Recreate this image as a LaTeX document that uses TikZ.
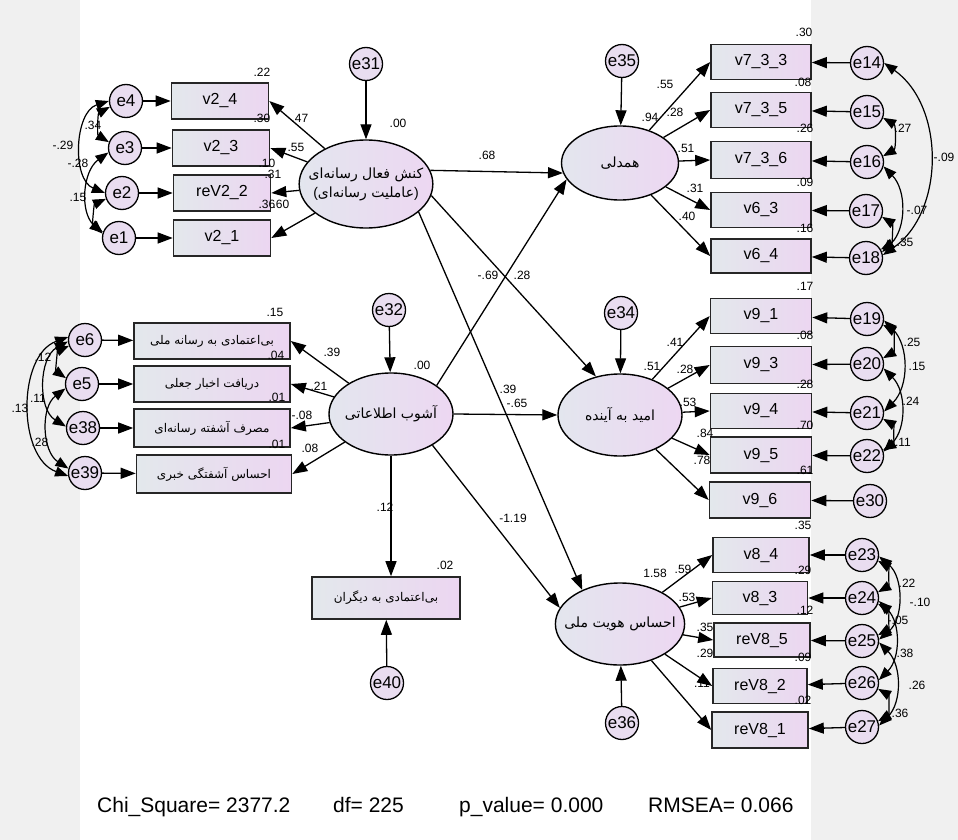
\documentclass[tikz,border=0pt]{standalone}
\usepackage{fontspec}
\setmainfont{Liberation Sans}
\newfontfamily\farsi[Script=Arabic]{DejaVu Sans}
\TeXXeTstate=1
\usetikzlibrary{arrows.meta,%
                shapes.geometric,%
                positioning}
\definecolor{bggray}{HTML}{F0F0F0}
\definecolor{boxL}{HTML}{E3E8EC}
\definecolor{boxR}{HTML}{ECD6F1}
\definecolor{latL}{HTML}{E3E6EE}
\definecolor{latR}{HTML}{EDD7F2}
\definecolor{errfill}{HTML}{E9DDF0}
\newcommand{\fa}[1]{\beginR #1\endR}

\begin{document}
\begin{tikzpicture}[x=1pt,y=-1pt,
    obsbox/.style={draw=black!85,line width=1.6pt,minimum width=97pt,minimum height=36pt,inner sep=0pt,left color=boxL,right color=boxR,font=\fontsize{16}{16}\selectfont},
    fabox/.style={obsbox,minimum width=156pt,font=\farsi\fontsize{12}{12}\selectfont},
    errc/.style={circle,draw,line width=1.3pt,minimum size=33pt,inner sep=0pt,fill=errfill,font=\fontsize{17}{17}\selectfont},
    latent/.style={ellipse,draw,line width=1.4pt,minimum width=124pt,minimum height=82pt,inner sep=-10pt,left color=latL,right color=latR,font=\farsi\fontsize{14}{19}\selectfont,align=center},
    reg/.style={line width=1.3pt,-{Triangle[length=15pt,width=11pt]}},
    cov/.style={line width=1.2pt,{Triangle[length=13pt,width=10pt]}-{Triangle[length=13pt,width=10pt]}},
    est/.style={font=\fontsize{12}{12}\selectfont,inner sep=0pt},
    fit/.style={anchor=base west,inner sep=0pt,font=\fontsize{21}{21}\selectfont}]
    \useasboundingbox (0,0) rectangle (958,840);
    \fill[bggray] (0,0) rectangle (958,840);
    \fill[white] (80,0) rectangle (811,840);

    % latent factors
    \node[latent,minimum width=127pt,minimum height=88pt] (agency) at (366,184) {\fa{کنش فعال رسانه‌ای}\\{\normalfont(}\fa{عاملیت رسانه‌ای}{\normalfont)}};
    \node[latent] (chaos) at (391,414) {\fa{آشوب اطلاعاتی}};
    \node[latent,minimum width=117pt,minimum height=74pt] (empathy) at (620,163) {\fa{همدلی}};
    \node[latent] (hope) at (620,415) {\fa{امید به آینده}};
    \node[latent] (identity) at (620,624) {\fa{احساس هویت ملی}};

    % disturbances
    \node[errc] (e31) at (366,64) {e31};
    \node[errc] (e32) at (389,310) {e32};
    \node[errc] (e35) at (622,61) {e35};
    \node[errc] (e34) at (621,313) {e34};
    \node[errc] (e36) at (622,723) {e36};
    \node[errc] (e40) at (387,683) {e40};
    \node[fabox,minimum width=148pt,minimum height=42pt] (dtr) at (386,598) {\fa{بی‌اعتمادی به دیگران}};

    % media agency indicators
    \node[obsbox] (v24) at (220,101) {v2\_4};
    \node[obsbox] (v23) at (221,148) {v2\_3};
    \node[obsbox] (rv22) at (222,193) {reV2\_2};
    \node[obsbox] (v21) at (222,238) {v2\_1};
    \node[errc] (e4) at (126,101) {e4};
    \node[errc] (e3) at (125,148) {e3};
    \node[errc] (e2) at (122,193) {e2};
    \node[errc] (e1) at (119,238) {e1};

    % information chaos indicators
    \node[fabox] (dm) at (212,341) {\fa{بی‌اعتمادی به رسانه ملی}};
    \node[fabox] (fk) at (212,384) {\fa{دریافت اخبار جعلی}};
    \node[fabox,minimum height=38pt] (mc) at (212,428) {\fa{مصرف آشفته رسانه‌ای}};
    \node[fabox,minimum width=155pt,minimum height=38pt] (na) at (214,474) {\fa{احساس آشفتگی خبری}};
    \node[errc] (e6) at (85,340) {e6};
    \node[errc] (e5) at (82,384) {e5};
    \node[errc] (e38) at (83,428) {e38};
    \node[errc] (e39) at (85,473) {e39};

    % empathy indicators
    \node[obsbox,minimum width=100pt,minimum height=35pt] (v733) at (761,62) {v7\_3\_3};
    \node[obsbox,minimum width=100pt,minimum height=35pt] (v735) at (761,110) {v7\_3\_5};
    \node[obsbox,minimum width=100pt,minimum height=37pt] (v736) at (761,160) {v7\_3\_6};
    \node[obsbox,minimum width=100pt,minimum height=35pt] (v63) at (761,210) {v6\_3};
    \node[obsbox,minimum width=100pt,minimum height=34pt] (v64) at (761,256) {v6\_4};
    \node[errc] (e14) at (867,63) {e14};
    \node[errc] (e15) at (867,112) {e15};
    \node[errc] (e16) at (867,162) {e16};
    \node[errc] (e17) at (866,211) {e17};
    \node[errc] (e18) at (866,258) {e18};

    % hope indicators
    \node[obsbox,minimum width=101pt,minimum height=35pt] (v91) at (761,316) {v9\_1};
    \node[obsbox,minimum width=101pt,minimum height=37pt] (v93) at (761,365) {v9\_3};
    \node[obsbox,minimum width=101pt,minimum height=35pt] (v94) at (761,411) {v9\_4};
    \node[obsbox,minimum width=101pt,minimum height=36pt] (v95) at (761,455) {v9\_5};
    \node[obsbox,minimum width=101pt,minimum height=36pt] (v96) at (760,500) {v9\_6};
    \node[errc] (e19) at (867,319) {e19};
    \node[errc] (e20) at (867,364) {e20};
    \node[errc] (e21) at (867,413) {e21};
    \node[errc] (e22) at (867,456) {e22};
    \node[errc] (e30) at (870,501) {e30};

    % national identity indicators
    \node[obsbox,minimum width=96pt,minimum height=35pt] (v84) at (761,555) {v8\_4};
    \node[obsbox,minimum width=95pt,minimum height=33pt] (v83) at (760,598) {v8\_3};
    \node[obsbox,minimum width=96pt,minimum height=34pt] (rv85) at (762,640) {reV8\_5};
    \node[obsbox,minimum width=94pt,minimum height=35pt] (rv82) at (760,686) {reV8\_2};
    \node[obsbox,minimum width=96pt,minimum height=36pt] (rv81) at (760,730) {reV8\_1};
    \node[errc] (e23) at (862,555) {e23};
    \node[errc] (e24) at (862,598) {e24};
    \node[errc] (e25) at (862,641) {e25};
    \node[errc] (e26) at (862,683) {e26};
    \node[errc] (e27) at (862,727) {e27};

    % structural paths
    \draw[reg] (agency.12) -- (empathy.190);
    \draw[reg] (agency.350) -- (hope.122);
    \draw[reg] (agency.332) -- (identity.138);
    \draw[reg] (chaos.32) -- (empathy.197);
    \draw[reg] (chaos.east) -- (hope.west);
    \draw[reg] (chaos.323) -- (identity.165);
    \draw[reg] (chaos.south) -- (chaos.south |- dtr.north);
    \draw[reg] (e40) -- (dtr);
    \draw[reg] (e31) -- (agency);
    \draw[reg] (e32) -- (chaos);
    \draw[reg] (e35) -- (empathy);
    \draw[reg] (e34) -- (hope);
    \draw[reg] (e36) -- (identity);

    % loadings
    \foreach \b in {v24,v23,rv22,v21} \draw[reg] (agency) -- (\b.east);
    \foreach \b in {dm,fk,mc,na} \draw[reg] (chaos) -- (\b.east);
    \foreach \b in {v733,v735,v736,v63,v64} \draw[reg] (empathy) -- (\b.west);
    \foreach \b in {v91,v93,v94,v95,v96} \draw[reg] (hope) -- (\b.west);
    \foreach \b in {v84,v83,rv85,rv82,rv81} \draw[reg] (identity) -- (\b.west);

    % measurement errors
    \foreach \e/\b in {e4/v24,e3/v23,e2/rv22,e1/v21,e6/dm,e5/fk,e38/mc,e39/na} \draw[reg] (\e) -- (\b);
    \foreach \e/\b in {e14/v733,e15/v735,e16/v736,e17/v63,e18/v64,e19/v91,e20/v93,e21/v94,e22/v95,e30/v96} \draw[reg] (\e) -- (\b);
    \foreach \e/\b in {e23/v84,e24/v83,e25/rv85,e26/rv82,e27/rv81} \draw[reg] (\e) -- (\b);

    % covariances
    \draw[cov] (e4.200) to[bend right=60] (e3.160);
    \draw[cov] (e4.180) to[bend right=70] (e2.180);
    \draw[cov] (e3.195) to[bend right=50] (e1.165);
    \draw[cov] (e2.200) to[bend right=60] (e1.160);
    \draw[cov] (e6.200) to[bend right=60] (e5.160);
    \draw[cov] (e6.185) to[bend right=60] (e38.175);
    \draw[cov] (e6.170) to[bend right=70] (e39.190);
    \draw[cov] (e5.195) to[bend right=55] (e39.165);
    \draw[cov] (e15.340) to[bend left=60] (e16.20);
    \draw[cov] (e16.345) to[bend left=45] (e18.20);
    \draw[cov] (e14.0) to[bend left=55] (e18.10);
    \draw[cov] (e17.340) to[bend left=60] (e18.30);
    \draw[cov] (e19.340) to[bend left=60] (e20.20);
    \draw[cov] (e19.355) to[bend left=45] (e21.5);
    \draw[cov] (e20.345) to[bend left=45] (e22.15);
    \draw[cov] (e21.340) to[bend left=60] (e22.20);
    \draw[cov] (e23.340) to[bend left=60] (e24.20);
    \draw[cov] (e23.355) to[bend left=50] (e25.5);
    \draw[cov] (e24.340) to[bend left=60] (e25.20);
    \draw[cov] (e24.350) to[bend left=45] (e26.10);
    \draw[cov] (e25.355) to[bend left=45] (e27.5);
    \draw[cov] (e26.340) to[bend left=60] (e27.20);

    % estimates
    \foreach \x/\y/\t [count=\i] in {262/72/.22, 262/118/.30, 300/118/.47, 296/147/.55, 267/163/.10, 273/174/.31, 267/204/.36, 281/204/.60, 93/125/.34, 63/145/-.29, 78/163/-.28, 78/197/.15, 398/123/.00,
        275/312/.15, 276/355/.04, 277/397/.01, 277/444/.01, 332/352/.39, 319/386/.21, 302/415/-.08, 310/448/.08, 43/357/.12, 38/398/.11, 20/408/.13, 40/442/.28, 422/365/.00,
        487/155/.68, 488/275/-.69, 522/275/.28, 508/389/.39, 517/403/-.65, 513/518/-1.19, 385/507/.12, 445/565/.02,
        804/32/.30, 803/82/.08, 805/128/.26, 805/182/.09, 805/228/.16, 665/84/.55, 650/117/.94, 675/112/.28, 686/148/.51, 695/188/.31, 687/216/.40, 903/128/.27, 917/210/-.07, 944/157/-.09, 905/242/.35,
        805/286/.17, 805/335/.08, 805/384/.28, 805/425/.70, 805/470/.61, 675/342/.41, 685/369/.28, 688/402/.53, 705/433/.84, 702/460/.78, 652/366/.51, 912/342/.25, 917/366/.15, 911/401/.24, 903/442/.11,
        803/525/.35, 803/570/.29, 805/610/.12, 803/657/.09, 803/700/.02, 683/569/.59, 687/597/.53, 705/627/.35, 705/653/.29, 702/683/.11, 655/573/1.58, 907/583/.22, 920/602/-.10, 898/620/-.05, 905/653/.38, 917/685/.26, 900/713/.36}
        \node[est] (est\i) at (\x,\y) {\t};

    % fit indices
    \node[fit] (chi) at (97,812) {Chi\_Square= 2377.2};
    \node[fit] (df) at (333,812) {df= 225};
    \node[fit] (pval) at (459,812) {p\_value= 0.000};
    \node[fit] (rmsea) at (648,812) {RMSEA= 0.066};
\end{tikzpicture}
\end{document}
